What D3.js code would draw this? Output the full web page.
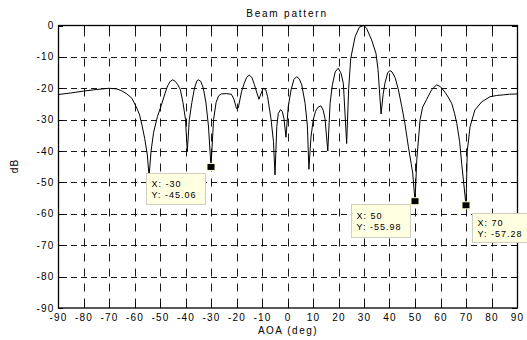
<!DOCTYPE html>
<html>
<head>
<meta charset="utf-8">
<script src="https://cdn.jsdelivr.net/npm/d3@7"></script>
<style>
  body { margin: 0; background: #fff; }
  text { font-family: "Liberation Sans", Arial, sans-serif; fill: #000; }
</style>
</head>
<body>
<svg id="chart"></svg>
<script>
// beam pattern samples (deg, dB)
const angles = [-90, -85, -80, -75, -70, -67, -65, -63, -61, -59, -58, -57, -56, -55, -54.3, -53.5, -52.5, -51, -49.5, -48,
  -47, -46, -45, -44, -43, -42, -41, -40, -39.3, -38.5, -37.5, -36.5, -35.5, -35, -34, -33, -32, -31, -30, -29,
  -28, -27, -26, -24, -22, -21, -20, -19.3, -18, -17, -16, -15, -14, -13, -12, -11.2, -10.3, -9.5, -8.5, -7.8,
  -6.5, -5.5, -4.9, -4.2, -3.6, -2.7, -2, -1.4, -0.6, 0.3, 1.4, 2.5, 3.6, 4.6, 5.6, 6.9, 7.8, 8.4, 9.2, 10.1,
  11, 12, 13.1, 14, 14.7, 15.8, 16.7, 17.6, 18.7, 19.9, 21, 21.9, 23.2, 24, 24.8, 26.5, 28.2, 30, 31, 33,
  34.7, 35.5, 36.7, 37.5, 38.2, 39.3, 40.2, 41, 42.2, 43.5, 44.8, 46, 47.4, 48.5, 49.1, 50, 50.7, 52, 53, 54.6,
  56.5, 58.5, 60, 61.8, 63, 64.4, 65.5, 66.4, 67.5, 68.3, 70, 70.5, 71.6, 73.5, 76.2, 79.4, 82, 84.6, 87, 90];
const gains = [-22.0, -21.5, -20.9, -20.4, -20.0, -20.2, -20.8, -21.8, -23.2, -26.5, -28.5, -32, -36, -41, -48, -40, -34, -29, -25.5, -21.5,
  -19.2, -17.8, -17.3, -17.8, -18.9, -20.5, -24.5, -30, -40.2, -30, -24.5, -20, -17.6, -17.3, -17.8, -20, -24.5, -32, -45.06, -30,
  -24.5, -22.4, -21.8, -21.7, -21.9, -23.5, -26.5, -26.2, -21, -18.5, -16.5, -15.8, -16.5, -18.8, -21.5, -23.5, -21.5, -20, -20.5, -22.7,
  -29.6, -37, -47.6, -32.2, -28, -26.8, -27.5, -29.6, -35.6, -25.8, -20.5, -17.2, -16.3, -17, -18.9, -24.8, -32, -45.8, -35.6, -30,
  -27.3, -26, -25.6, -27, -29.6, -40, -24.8, -18.9, -14.8, -13.6, -15.2, -18.5, -37.6, -20, -10.5, -3.6, -0.5, 0, -0.9, -4.6,
  -8.9, -14, -28.2, -22, -18.4, -15, -14.4, -14.8, -16.6, -20.5, -25.8, -31, -38.6, -44, -47, -55.98, -42.8, -30, -26, -23.5,
  -20.5, -18.9, -19.5, -21.3, -22.8, -24.8, -28, -31.2, -37, -43.9, -57.28, -40, -32.2, -26.9, -24.3, -22.7, -22.3, -22.1, -21.9, -21.8];

// data tips
const tipAngles = [-30, 50, 70];
const tipGains = [-45.06, -55.98, -57.28];

const xTicks = [-90, -80, -70, -60, -50, -40, -30, -20, -10, 0, 10, 20, 30, 40, 50, 60, 70, 80, 90];
const yTicks = [0, -10, -20, -30, -40, -50, -60, -70, -80, -90];

const width = 527;
const height = 340;
const plot = { left: 58, right: 517, top: 25.5, bottom: 308 };

const svg = d3.select("#chart")
    .attr("width", width)
    .attr("height", height);

const xScale = d3.scaleLinear().domain([-90, 90]).range([plot.left, plot.right]);
const yScale = d3.scaleLinear().domain([-90, 0]).range([plot.bottom, plot.top]);

// dashed grid
svg.append("g")
    .selectAll("line")
    .data(xTicks.slice(1, -1))
    .join("line")
    .attr("x1", d => Math.round(xScale(d)) + 0.5)
    .attr("x2", d => Math.round(xScale(d)) + 0.5)
    .attr("y1", plot.top)
    .attr("y2", plot.bottom)
    .attr("stroke", "#000")
    .attr("stroke-width", 0.9)
    .attr("stroke-dasharray", "8,7")
    .attr("stroke-dashoffset", -3);

svg.append("g")
    .selectAll("line")
    .data(yTicks.slice(1, -1))
    .join("line")
    .attr("x1", plot.left)
    .attr("x2", plot.right)
    .attr("y1", d => Math.round(yScale(d)) + 0.5)
    .attr("y2", d => Math.round(yScale(d)) + 0.5)
    .attr("stroke", "#000")
    .attr("stroke-width", 0.9)
    .attr("stroke-dasharray", "6,4")
    .attr("stroke-dashoffset", -3);

// inward ticks on all four sides
const tickLen = 5;
const ticks = svg.append("g").attr("stroke", "#000").attr("stroke-width", 1);
xTicks.forEach(d => {
  const x = Math.round(xScale(d)) + 0.5;
  ticks.append("line").attr("x1", x).attr("x2", x).attr("y1", plot.bottom).attr("y2", plot.bottom - tickLen);
  ticks.append("line").attr("x1", x).attr("x2", x).attr("y1", plot.top).attr("y2", plot.top + tickLen);
});
yTicks.forEach(d => {
  const y = Math.round(yScale(d)) + 0.5;
  ticks.append("line").attr("x1", plot.left).attr("x2", plot.left + tickLen).attr("y1", y).attr("y2", y);
  ticks.append("line").attr("x1", plot.right).attr("x2", plot.right - tickLen).attr("y1", y).attr("y2", y);
});

// the pattern
const line = d3.line()
    .x(d => xScale(d.x))
    .y(d => yScale(d.y));

const data = angles.map((a, i) => ({ x: a, y: gains[i] }));

svg.append("path")
    .datum(data)
    .attr("d", line)
    .attr("fill", "none")
    .attr("stroke", "#000")
    .attr("stroke-width", 1);

// axes box
svg.append("rect")
    .attr("x", plot.left + 0.5)
    .attr("y", plot.top)
    .attr("width", plot.right - plot.left)
    .attr("height", plot.bottom - plot.top)
    .attr("fill", "none")
    .attr("stroke", "#000")
    .attr("stroke-width", 1.3);

// tick labels
svg.append("g")
    .selectAll("text")
    .data(xTicks)
    .join("text")
    .attr("x", d => xScale(d) + 0.6)
    .attr("y", 320.5)
    .attr("text-anchor", "middle")
    .attr("font-size", 10)
    .attr("letter-spacing", 1.2)
    .text(d => d);

svg.append("g")
    .selectAll("text")
    .data(yTicks)
    .join("text")
    .attr("x", 54.5)
    .attr("y", d => yScale(d) + 3.5)
    .attr("text-anchor", "end")
    .attr("font-size", 10)
    .attr("letter-spacing", 1.2)
    .text(d => d);

// title and axis labels
svg.append("text")
    .attr("x", 287)
    .attr("y", 16.5)
    .attr("text-anchor", "middle")
    .attr("font-size", 10)
    .attr("letter-spacing", 1.8)
    .text("Beam pattern");

svg.append("text")
    .attr("x", 288)
    .attr("y", 334)
    .attr("text-anchor", "middle")
    .attr("font-size", 10)
    .attr("letter-spacing", 1.5)
    .text("AOA (deg)");

svg.append("text")
    .attr("transform", "translate(18,166) rotate(-90)")
    .attr("text-anchor", "middle")
    .attr("font-size", 10)
    .attr("letter-spacing", 1.2)
    .text("dB");

// data tips: box offsets from the marked point
const tipOffsets = [[-65, 6], [-64, 3], [6, 7.5]];
const tipSizes = [[59, 31], [59, 33], [60, 29]];

tipAngles.forEach((a, i) => {
  const px = xScale(a);
  const py = yScale(tipGains[i]);
  const bx = Math.round(px + tipOffsets[i][0]) + 0.5;
  const by = Math.round(py + tipOffsets[i][1]) + 0.5;

  svg.append("rect")
      .attr("x", bx)
      .attr("y", by)
      .attr("width", tipSizes[i][0])
      .attr("height", tipSizes[i][1])
      .attr("fill", "#ffffe1")
      .attr("stroke", "#cfcfbf")
      .attr("stroke-width", 1);

  const pad = (tipSizes[i][1] - 23) / 2;
  svg.append("text")
      .attr("x", bx + 5)
      .attr("y", by + pad + 9)
      .attr("font-size", 9)
      .attr("letter-spacing", 1)
      .text("X: " + a);

  svg.append("text")
      .attr("x", bx + 5)
      .attr("y", by + pad + 20)
      .attr("font-size", 9)
      .attr("letter-spacing", 1)
      .text("Y: " + tipGains[i].toFixed(2));

  // marker square
  svg.append("rect")
      .attr("x", px - 4)
      .attr("y", py - 3.5)
      .attr("width", 8)
      .attr("height", 7)
      .attr("fill", "#000")
      .attr("stroke", "#ffffc8")
      .attr("stroke-width", 1);
});
</script>
</body>
</html>
